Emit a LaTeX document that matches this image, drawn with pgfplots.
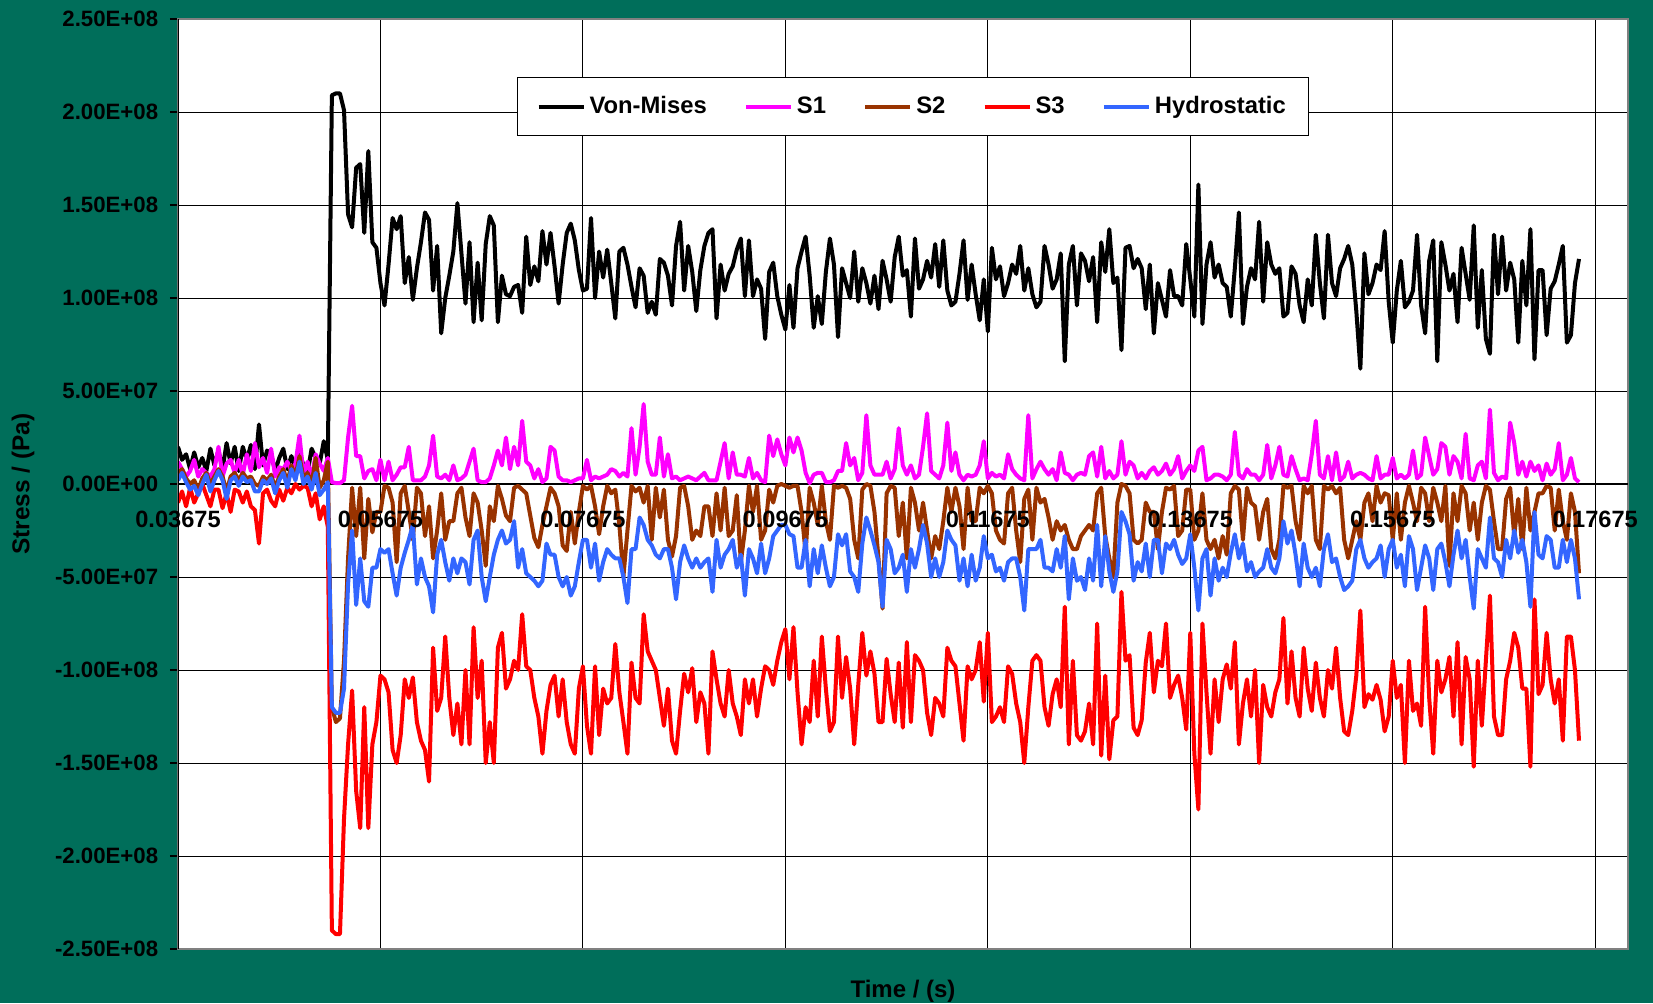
\documentclass[border=0pt]{standalone}
\usepackage{fontspec}
\setmainfont{Liberation Sans}
\usepackage{pgfplots}
\usepackage{pgfplotstable}
\pgfplotsset{compat=1.18}
\definecolor{bggreen}{RGB}{0,110,90}
\definecolor{cS1}{RGB}{255,0,255}
\definecolor{cS2}{RGB}{153,51,0}
\definecolor{cS3}{RGB}{255,0,0}
\definecolor{cH}{RGB}{51,102,255}
\pgfplotstableread{
vm s1 s2 s3 h
20 12 6 -10 2
13 8 8 -4 6
16 4 3 -12 1
8 7 0 -2 -3
17 13 2 -10 -1
9 4 -3 -5 -6
14 8 3 0 0
7 6 6 -6 5
19 4 0 -12 -4
10 8 4 -3 2
18 20 8 -3 7
8 4 4 -13 2
22 11 -4 -5 -8
11 13 4 -15 2
20 6 6 -3 4
7 13 2 -4 -1
20 5 6 -10 4
13 16 3 -4 1
21 7 4 -12 2
8 22 0 -14 -4
32 9 -1 -32 -4
10 14 4 -5 2
18 6 2 -3 0
16 19 5 -9 3
7 4 -2 -12 -5
14 9 4 -3 2
19 8 8 -9 6
8 12 1 -2 -2
15 7 10 -5 8
9 11 4 0 2
17 26 15 -3 12
10 5 3 -1 0
6 12 6 -2 4
19 3 0 -12 -3
14 16 14 -5 6
11 11 -2 -19 -6
23 7 2 -12 -3
13 14 12 -23 1
209 1 -120 -240 -120
210 0.5 -128 -242 -123
210 0.5 -126 -242 -123
201 2 -95 -180 -110
145 25 -40 -140 -54
138 42 -2 -111 -25
170 15 -28 -165 -65
172 15 -2 -185 -40
135 3 -40 -120 -63
179 7 -8 -185 -66
130 8 -26 -140 -45
127 2 -15 -128 -45
108 13 -15 -103 -35
96 2 -1 -105 -37
118 12 -2 -112 -35
143 2 -10 -143 -48
137 5 -42 -150 -60
144 9 -5 -135 -45
108 9 -1 -105 -37
122 20 -15 -115 -30
99 2 -30 -104 -22
116 2 -2 -128 -54
130 2 -5 -138 -40
146 4 -28 -143 -50
142 10 -12 -160 -55
104 26 -40 -88 -69
128 4 -25 -122 -38
81 3 -5 -115 -30
100 5 -30 -82 -42
112 2 -20 -115 -52
125 10 -20 -135 -40
151 2 -5 -118 -48
124 3 -2 -140 -40
97 5 -18 -100 -42
130 12 -28 -140 -54
87 19 -5 -77 -30
119 2 -10 -115 -25
88 1 -25 -95 -50
129 1 -44 -150 -63
144 3 -12 -128 -50
139 10 -20 -150 -38
87 18 -1 -88 -30
112 10 -8 -80 -25
102 25 -17 -110 -32
101 8 -20 -105 -30
106 20 -2 -95 -20
107 10 -1 -100 -45
92 34 -3 -70 -35
133 12 -5 -98 -48
107 10 -17 -100 -50
117 3 -29 -115 -52
109 8 -34 -125 -55
136 1 -22 -145 -52
118 3 -12 -122 -32
135 20 -2 -108 -38
117 18 -5 -103 -38
97 4 -12 -125 -50
118 2 -33 -105 -55
135 2 -36 -128 -50
140 1 -15 -140 -60
131 2 -32 -145 -55
115 3 -15 -110 -42
104 3 -1 -98 -30
105 13 -3 -130 -30
143 2 -1 -145 -45
100 4 -12 -98 -32
125 3 -27 -135 -52
111 4 -12 -110 -42
126 5 -1 -118 -35
108 8 -5 -115 -38
89 7 -3 -86 -40
125 4 -22 -112 -40
127 6 -50 -128 -50
118 4 -25 -145 -64
106 30 -1 -96 -35
95 5 -4 -115 -35
116 20 -2 -118 -18
112 43 -10 -70 -22
92 12 -1 -90 -30
98 5 -30 -95 -33
91 5 -2 -100 -38
121 25 -18 -115 -40
119 4 -3 -130 -35
112 16 -30 -110 -35
96 3 -39 -138 -45
128 4 -28 -145 -62
141 2 -2 -122 -42
104 3 -1 -102 -33
128 4 -12 -112 -40
114 3 -30 -99 -45
93 2 -25 -128 -40
115 4 -28 -112 -45
128 6 -12 -118 -42
135 2 -12 -145 -40
137 2 -28 -90 -58
89 2 -5 -105 -30
118 12 -25 -118 -45
104 22 -2 -125 -38
113 3 -28 -100 -35
117 17 -25 -118 -30
126 5 -6 -125 -45
132 5 -42 -135 -38
101 4 -25 -105 -60
131 14 -1 -118 -35
101 3 -15 -105 -40
110 6 -1 -125 -48
105 2 -30 -110 -32
78 1 -25 -98 -48
114 26 -3 -100 -40
119 15 -10 -108 -28
101 24 -1 -95 -25
91 16 0 -85 -22
83 10 -1 -78 -22
107 25 -2 -105 -27
84 17 -1 -77 -28
116 25 -1 -112 -45
125 18 -15 -140 -45
133 6 -37 -120 -30
112 0.5 -2 -128 -55
84 5 -10 -95 -35
101 6 -22 -125 -48
86 6 -1 -82 -33
114 1 -20 -110 -45
132 1 -30 -133 -55
118 2 -1 -128 -50
79 7 -2 -82 -27
116 7 -1 -115 -33
108 22 -2 -93 -27
100 10 -8 -110 -47
125 14 -30 -140 -50
98 2 -40 -108 -58
116 6 -3 -80 -32
108 37 0 -103 -18
97 10 -1 -90 -25
112 5 -15 -102 -33
94 5 -40 -128 -42
120 5 -67 -128 -66
110 12 -5 -94 -30
98 3 -1 -113 -35
122 8 -2 -128 -48
133 30 -28 -96 -45
112 10 -10 -131 -38
115 5 -40 -85 -58
90 10 -2 -128 -35
132 3 -10 -92 -45
105 5 -25 -95 -35
110 20 -10 -100 -22
120 38 -25 -123 -32
111 7 -40 -135 -50
129 5 -28 -115 -40
106 3 -35 -118 -50
131 10 -20 -125 -42
104 33 -2 -88 -25
96 7 -15 -95 -30
98 17 -2 -98 -33
113 5 -12 -118 -52
131 2 -35 -138 -40
99 5 -2 -98 -55
118 4 -20 -105 -38
102 5 -20 -100 -52
88 10 -2 -85 -45
110 23 -5 -117 -28
82 3 -1 -80 -40
127 6 -5 -128 -38
110 4 -25 -125 -47
117 5 -30 -120 -45
101 3 -32 -128 -52
108 16 -5 -98 -42
118 8 -2 -102 -40
113 5 -25 -118 -40
128 3 -42 -128 -50
104 2 -8 -150 -68
116 37 -3 -120 -35
102 3 -30 -95 -35
95 8 -2 -92 -35
98 12 -10 -95 -30
128 8 -8 -120 -45
118 5 -18 -130 -45
105 8 -30 -113 -47
110 2 -20 -105 -35
124 17 -25 -120 -45
66 6 -22 -66 -28
118 5 -30 -140 -62
128 2 -35 -95 -40
96 5 -35 -135 -52
124 6 -28 -138 -50
120 5 -25 -133 -57
109 15 -22 -118 -40
122 17 -25 -140 -52
87 4 -5 -75 -22
130 20 -2 -146 -55
114 3 -28 -103 -28
137 7 -40 -148 -47
108 3 -50 -127 -58
111 5 -10 -125 -47
72 23 0 -58 -15
127 5 -1 -95 -20
128 12 -5 -92 -27
116 10 -30 -131 -52
121 3 -32 -135 -42
116 6 -30 -127 -47
94 3 -10 -96 -32
118 7 -15 -80 -50
81 9 -15 -112 -30
108 5 -35 -95 -30
99 7 -15 -98 -48
90 11 -2 -75 -32
115 5 -3 -115 -35
101 8 -1 -108 -30
101 15 -28 -103 -38
96 3 -25 -115 -43
129 7 -3 -132 -40
110 10 -3 -80 -27
90 7 -30 -145 -45
161 18 -25 -175 -68
86 20 -5 -75 -40
118 2 -30 -112 -35
130 3 -35 -145 -60
111 5 -30 -105 -40
118 5 -40 -128 -52
108 4 -28 -105 -45
106 2 -38 -97 -50
90 5 -5 -110 -37
116 28 -1 -85 -27
146 5 -3 -140 -40
86 3 -30 -118 -32
106 8 -2 -105 -47
116 5 -10 -125 -42
110 5 -12 -100 -50
141 2 -30 -150 -47
98 5 -15 -108 -45
130 21 -8 -120 -35
118 3 -35 -125 -45
113 10 -40 -112 -48
116 20 -30 -105 -40
90 5 -1 -72 -20
92 4 -2 -118 -32
117 15 -1 -90 -25
113 8 -20 -115 -38
96 2 -30 -125 -55
87 3 -1 -88 -32
110 2 -5 -110 -45
96 16 -1 -122 -50
134 34 -30 -96 -45
108 5 -35 -115 -55
89 3 -1 -125 -35
134 15 -3 -100 -27
108 2 -1 -110 -42
101 17 -5 -88 -40
116 2 -2 -115 -50
121 4 -30 -133 -57
128 12 -40 -135 -55
118 3 -30 -122 -52
93 5 -20 -103 -35
62 6 -30 -68 -30
124 5 -10 -120 -40
102 3 -5 -113 -45
108 2 -20 -116 -42
118 15 -1 -108 -40
115 3 -10 -116 -33
136 5 -5 -133 -50
98 5 -6 -125 -35
76 14 -30 -95 -30
104 3 -5 -115 -45
120 5 -30 -108 -38
95 3 -10 -150 -55
98 5 -1 -95 -28
104 18 -10 -122 -35
134 3 -20 -118 -57
96 5 -2 -130 -45
81 25 -5 -66 -33
120 15 -20 -115 -40
131 5 -2 -145 -57
66 8 -10 -95 -35
130 22 -20 -112 -32
118 20 -1 -105 -42
104 5 -44 -93 -55
113 15 -5 -125 -38
87 12 -20 -85 -25
127 3 -1 -140 -40
113 27 -5 -93 -30
99 3 -25 -105 -50
139 2 -10 -152 -67
84 10 -30 -95 -35
115 12 -10 -130 -40
78 3 -1 -95 -45
70 40 -3 -60 -18
134 6 -20 -125 -40
102 2 -35 -135 -42
133 4 -35 -135 -50
104 3 -8 -105 -30
119 33 -2 -95 -40
110 22 -28 -80 -25
76 5 -8 -88 -37
120 12 -35 -110 -30
96 4 -2 -110 -42
137 12 -25 -152 -66
67 7 -15 -62 -15
115 10 -5 -113 -38
115 2 -5 -108 -40
80 11 -1 -80 -28
105 5 -2 -105 -30
109 8 -25 -118 -45
118 22 -3 -105 -45
128 2 -20 -138 -30
76 5 -30 -82 -42
80 14 -5 -82 -30
108 3 -15 -100 -40
121 1 -48 -138 -62
}\data
\begin{document}
\begin{tikzpicture}
\fill[bggreen] (-89pt,-27pt) rectangle (737.5pt,474.5pt);
\begin{axis}[
  at={(0pt,0pt)}, anchor=south west,
  scale only axis, width=725pt, height=465pt,
  xmin=0, xmax=358.1, ymin=-250, ymax=250,
  axis background/.style={fill=white},
  xtick={0,50,...,350},
  xticklabels={,,,,,,,},
  ytick={-250,-200,...,250},
  yticklabels={-2.50E+08,-2.00E+08,-1.50E+08,-1.00E+08,-5.00E+07,0.00E+00,5.00E+07,1.00E+08,1.50E+08,2.00E+08,2.50E+08},
  grid=major,
  grid style={black, line width=0.5pt},
  axis line style={draw=gray, line width=1pt},
  tick align=outside,
  ytick pos=left,
  xtick style={draw=none},
  ytick style={black, line width=0.6pt},
  major tick length=4pt,
  yticklabel style={font=\fontsize{11.1}{13}\selectfont\bfseries, anchor=east, xshift=-2.4pt},
  xlabel={Time / (s)},
  ylabel={Stress / (Pa)},
  xlabel style={font=\fontsize{12}{14}\selectfont\bfseries, at={(axis description cs:0.5,-0.0452)}, anchor=center},
  ylabel style={font=\fontsize{12.2}{14}\selectfont\bfseries, at={(axis description cs:-0.1069,0.5)}, anchor=center},
  legend columns=5,
  legend cell align=left,
  legend image code/.code={\draw[#1] (0pt,0pt) -- (22.5pt,0pt);},
  legend style={at={(0.2338,0.9376)}, anchor=north west, draw=black, line width=0.5pt, fill=white,
    font=\fontsize{11.9}{14}\selectfont\bfseries,
    inner xsep=9.5pt, inner ysep=7.5pt,
    /tikz/every even column/.append style={column sep=16.6pt}},
  after end axis/.code={
    \foreach \v/\l in {0/0.03675,50/0.05675,100/0.07675,150/0.09675,200/0.11675,250/0.13675,300/0.15675,350/0.17675}{
      \node[font=\fontsize{11.8}{13}\selectfont\bfseries, anchor=center, inner sep=0pt] at (axis cs:\v,0) [yshift=-17.5pt] {\l};
    }
  },
]
\draw[black, line width=0.8pt] (axis cs:0,0) -- (axis cs:358.1,0);
\addplot[black, line width=2pt, line join=round, no markers] table[x expr=\coordindex, y=vm] {\data};
\addplot[cS1, line width=2pt, line join=round, no markers] table[x expr=\coordindex, y=s1] {\data};
\addplot[cS2, line width=2pt, line join=round, no markers] table[x expr=\coordindex, y=s2] {\data};
\addplot[cS3, line width=2pt, line join=round, no markers] table[x expr=\coordindex, y=s3] {\data};
\addplot[cH, line width=2pt, line join=round, no markers] table[x expr=\coordindex, y=h] {\data};
\legend{Von-Mises,S1,S2,S3,Hydrostatic}
\draw[black, line width=1pt] (rel axis cs:0,0) -- (rel axis cs:0,1);
\end{axis}
\pgfresetboundingbox
\path[use as bounding box] (-89pt,-27pt) rectangle (737.5pt,474.5pt);
\end{tikzpicture}
\end{document}
